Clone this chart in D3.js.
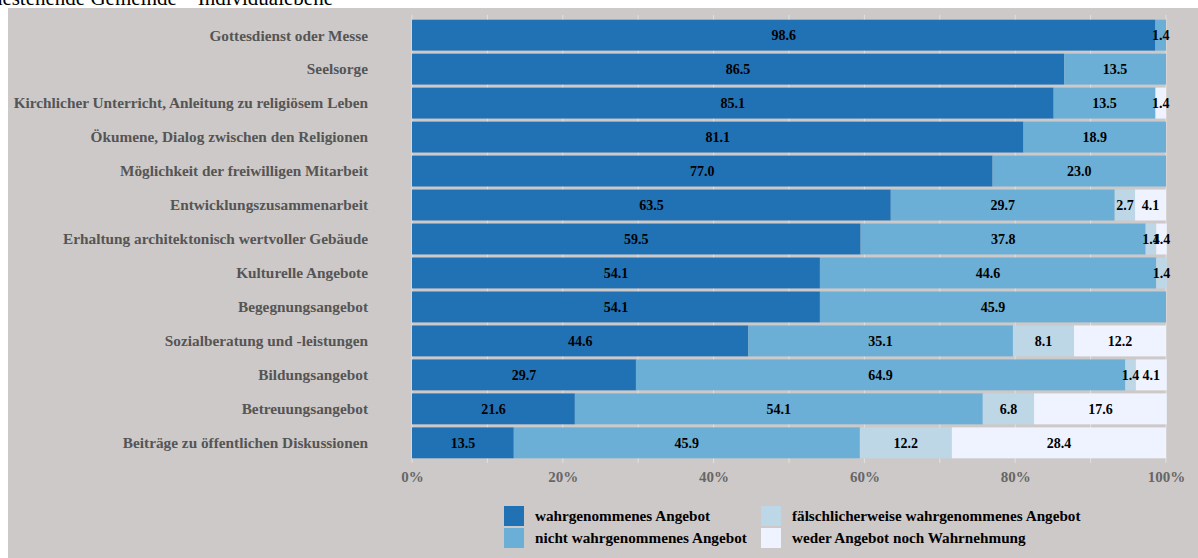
<!DOCTYPE html>
<html><head><meta charset="utf-8">
<script src="https://cdn.jsdelivr.net/npm/d3@7/dist/d3.min.js"></script>
<style>
html,body{margin:0;padding:0;background:#fff;overflow:hidden;}
svg{display:block;}
</style></head>
<body>
<svg id="chart" width="1198" height="558"></svg>
<script>
const categories = [
  "Gottesdienst oder Messe",
  "Seelsorge",
  "Kirchlicher Unterricht, Anleitung zu religiösem Leben",
  "Ökumene, Dialog zwischen den Religionen",
  "Möglichkeit der freiwilligen Mitarbeit",
  "Entwicklungszusammenarbeit",
  "Erhaltung architektonisch wertvoller Gebäude",
  "Kulturelle Angebote",
  "Begegnungsangebot",
  "Sozialberatung und -leistungen",
  "Bildungsangebot",
  "Betreuungsangebot",
  "Beiträge zu öffentlichen Diskussionen"
];
const seriesNames = [
  "wahrgenommenes Angebot",
  "nicht wahrgenommenes Angebot",
  "fälschlicherweise wahrgenommenes Angebot",
  "weder Angebot noch Wahrnehmung"
];
const wahrgenommen      = [98.6, 86.5, 85.1, 81.1, 77.0, 63.5, 59.5, 54.1, 54.1, 44.6, 29.7, 21.6, 13.5];
const nichtWahrgenommen = [1.4, 13.5, 13.5, 18.9, 23.0, 29.7, 37.8, 44.6, 45.9, 35.1, 64.9, 54.1, 45.9];
const faelschlich       = [0, 0, 0, 0, 0, 2.7, 1.4, 1.4, 0, 8.1, 1.4, 6.8, 12.2];
const weder             = [0, 0, 1.4, 0, 0, 4.1, 1.4, 0, 0, 12.2, 4.1, 17.6, 28.4];
const tickValues = [0, 20, 40, 60, 80, 100];
const tickLabels = ["0%", "20%", "40%", "60%", "80%", "100%"];
const titleText = "Angebote der Kirche – Wahrnehmung durch die nahestehende Gemeinde – Individualebene";

const colors = ["#2171b5", "#6baed6", "#bdd7e7", "#eff3ff"];
const seriesValues = [wahrgenommen, nichtWahrgenommen, faelschlich, weder];

const svg = d3.select("#chart");
const W = 1198, H = 558;
const FONT = "Liberation Serif, Times New Roman, serif";

// background panel
svg.append("rect").attr("x", 8).attr("y", 8).attr("width", W - 8).attr("height", H - 8).attr("fill", "#cdc9c8");

// title (cut off at top)
svg.append("text").attr("x", 333).attr("y", 5).attr("text-anchor", "end")
  .attr("font-family", FONT).attr("font-size", 21).attr("fill", "#000")
  .text(titleText);

const x = d3.scaleLinear().domain([0, 100]).range([412, 1166]);
const y = d3.scaleBand().domain(categories).range([18, 460]).paddingInner(0.09).paddingOuter(0.05);

// gridlines every 10%
svg.append("g").selectAll("line").data(d3.range(0, 101, 10)).join("line")
  .attr("x1", d => x(d)).attr("x2", d => x(d)).attr("y1", 15).attr("y2", 463)
  .attr("stroke", "#e3e0df").attr("stroke-width", 1);

// stacked data
const rows = categories.map((c, i) => {
  const r = { cat: c };
  seriesNames.forEach((s, j) => r[s] = seriesValues[j][i]);
  return r;
});
const stack = d3.stack().keys(seriesNames)(rows);

const g = svg.append("g");
stack.forEach((layer, j) => {
  const lg = g.append("g").attr("fill", colors[j]);
  lg.selectAll("rect").data(layer.filter(d => d[1] - d[0] > 0)).join("rect")
    .attr("x", d => x(d[0])).attr("y", d => y(d.data.cat))
    .attr("width", d => x(d[1]) - x(d[0])).attr("height", y.bandwidth());
});
// value labels
stack.forEach((layer, j) => {
  g.append("g").selectAll("text").data(layer.filter(d => d[1] - d[0] > 0)).join("text")
    .attr("x", d => (x(d[0]) + x(d[1])) / 2)
    .attr("y", d => y(d.data.cat) + y.bandwidth() / 2)
    .attr("dy", "0.35em").attr("text-anchor", "middle")
    .attr("font-family", FONT).attr("font-weight", "bold")
    .attr("font-size", 14).attr("fill", "#000")
    .text(d => (d[1] - d[0]).toFixed(1));
});

// category labels
svg.append("g").selectAll("text").data(categories).join("text")
  .attr("x", 368).attr("y", d => y(d) + y.bandwidth() / 2).attr("dy", "0.35em")
  .attr("text-anchor", "end").attr("font-family", FONT)
  .attr("font-weight", "bold").attr("font-size", 15.3).attr("fill", "#555")
  .text(d => d);

// x axis
const axis = d3.axisBottom(x).tickValues(tickValues).tickSize(0)
  .tickFormat((d, i) => tickLabels[i]);
const ax = svg.append("g").attr("transform", "translate(0,468)").call(axis);
ax.select(".domain").remove();
ax.selectAll("text").attr("font-family", FONT).attr("font-weight", "bold")
  .attr("font-size", 15).attr("fill", "#666").attr("dy", "0.71em");

// legend
const legendPos = [[504, 506], [504, 528], [761, 506], [761, 528]];
const leg = svg.append("g");
seriesNames.forEach((s, j) => {
  const [lx, ly] = legendPos[j];
  leg.append("rect").attr("x", lx).attr("y", ly).attr("width", 20).attr("height", 20)
    .attr("fill", colors[j]);
  leg.append("text").attr("x", lx + 31).attr("y", ly + 10).attr("dy", "0.35em")
    .attr("font-family", FONT).attr("font-weight", "bold")
    .attr("font-size", 15.2).attr("fill", "#000").text(s);
});
</script>
</body></html>
